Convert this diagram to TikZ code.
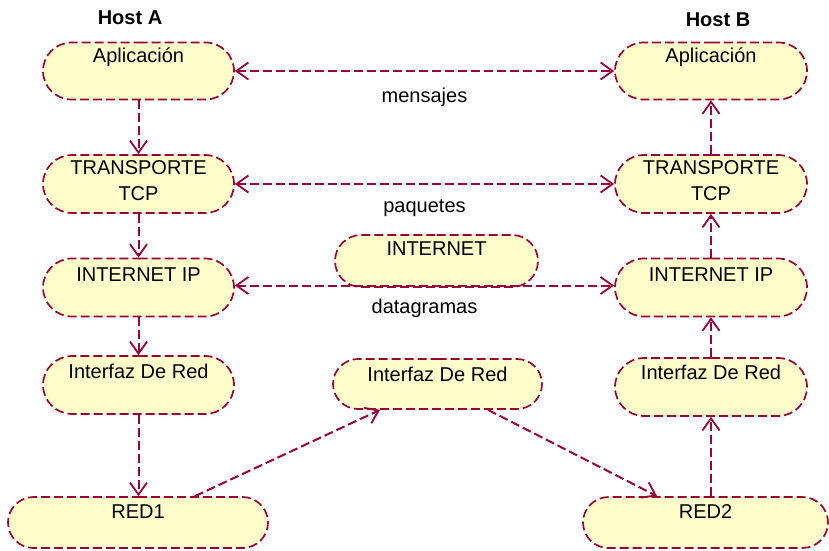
\documentclass[tikz,border=0pt]{standalone}
\usepackage{fontspec}
\setmainfont{Liberation Sans}
\usetikzlibrary{shapes.misc,arrows.meta,calc}
\definecolor{umlred}{RGB}{153,0,51}
\definecolor{umlfill}{RGB}{255,255,204}
\tikzset{
  stadium/.style={rounded rectangle, draw=umlred, fill=umlfill, line width=1.7pt,
    dash pattern=on 9pt off 4pt, inner sep=0pt},
  caption/.style={anchor=base, inner sep=0pt, font=\fontsize{20}{26}\selectfont, align=center},
  host/.style={inner sep=0pt, font=\fontsize{20}{24}\selectfont\bfseries},
  barb/.tip={Straight Barb[length=12pt,width=17pt,line width=1.8pt]},
  flow/.style={draw=umlred, line width=2pt, dash pattern=on 9pt off 4pt, -barb},
  both/.style={flow, barb-barb},
  msg/.style={inner sep=0pt, font=\fontsize{20}{24}\selectfont, text=black}
}
\begin{document}
\begin{tikzpicture}[x=1pt,y=-1pt]
\useasboundingbox (0,0) rectangle (829,550);

% host titles
\node[host] (hostA) at (130,18) {Host A};
\node[host] (hostB) at (718,20) {Host B};

% protocol layers of host A
\node[stadium, minimum width=191pt, minimum height=57pt] (apA)  at (138.5,71)  {};
\node[stadium, minimum width=191pt, minimum height=58pt] (tcpA) at (138.5,184) {};
\node[stadium, minimum width=191pt, minimum height=58pt] (ipA)  at (138.5,287.5) {};
\node[stadium, minimum width=191pt, minimum height=58pt] (ifA)  at (138.5,385) {};

% protocol layers of host B
\node[stadium, minimum width=192pt, minimum height=57pt] (apB)  at (711,71)  {};
\node[stadium, minimum width=192pt, minimum height=58pt] (tcpB) at (711,184) {};
\node[stadium, minimum width=192pt, minimum height=58pt] (ipB)  at (711,287.5) {};
\node[stadium, minimum width=192pt, minimum height=58pt] (ifB)  at (711,387) {};

% router and networks
\node[stadium, minimum width=203pt, minimum height=52pt] (inet) at (436.5,261) {};
\node[stadium, minimum width=209pt, minimum height=50pt] (ifC)  at (437.5,384) {};
\node[stadium, minimum width=260pt, minimum height=51pt] (red1) at (138,522.5) {};
\node[stadium, minimum width=245pt, minimum height=51pt] (red2) at (705.5,522.5) {};

% captions, set near the top of each shape (base = last line)
\node[caption] (apA-t)  at ([yshift=-21pt]apA.north)  {Aplicación};
\node[caption] (tcpA-t) at ([yshift=-46pt]tcpA.north) {TRANSPORTE\\TCP};
\node[caption] (ipA-t)  at ([yshift=-24pt]ipA.north)  {INTERNET IP};
\node[caption] (ifA-t)  at ([yshift=-23pt]ifA.north)  {Interfaz De Red};
\node[caption] (apB-t)  at ([yshift=-21pt]apB.north)  {Aplicación};
\node[caption] (tcpB-t) at ([yshift=-46pt]tcpB.north) {TRANSPORTE\\TCP};
\node[caption] (ipB-t)  at ([yshift=-24pt]ipB.north)  {INTERNET IP};
\node[caption] (ifB-t)  at ([yshift=-22pt]ifB.north)  {Interfaz De Red};
\node[caption] (inet-t) at ([yshift=-21pt]inet.north) {INTERNET};
\node[caption] (ifC-t)  at ([yshift=-23pt]ifC.north)  {Interfaz De Red};
\node[caption] (red1-t) at ([yshift=-22pt]red1.north) {RED1};
\node[caption] (red2-t) at ([yshift=-22pt]red2.north) {RED2};

% down the stack of host A
\draw[flow] (apA.south)  -- (tcpA.north);
\draw[flow] (tcpA.south) -- (ipA.north);
\draw[flow] (ipA.south)  -- (ifA.north);
\draw[flow] (ifA.south)  -- (red1.north -| ifA.south);

% across the networks
\draw[flow] ([xshift=57pt]red1.north) -- ([xshift=-57.5pt]ifC.south);
\draw[flow] ([xshift=50.5pt]ifC.south) -- ([xshift=-48.5pt]red2.north);

% up the stack of host B
\draw[flow] (red2.north -| ifB.south) -- (ifB.south);
\draw[flow] (ifB.north)  -- (ipB.south);
\draw[flow] (ipB.north)  -- (tcpB.south);
\draw[flow] (tcpB.north) -- (apB.south);

% peer-to-peer exchanges
\draw[both] (apA.east)  -- node[msg, yshift=-26pt] (m1) {mensajes} (apB.west);
\draw[both] (tcpA.east) -- node[msg, yshift=-24pt] (m2) {paquetes} (tcpB.west);
\draw[both] ([yshift=2pt]ipA.east) -- node[msg, yshift=-23pt] (m3) {datagramas} ([yshift=2pt]ipB.west);
\end{tikzpicture}
\end{document}
